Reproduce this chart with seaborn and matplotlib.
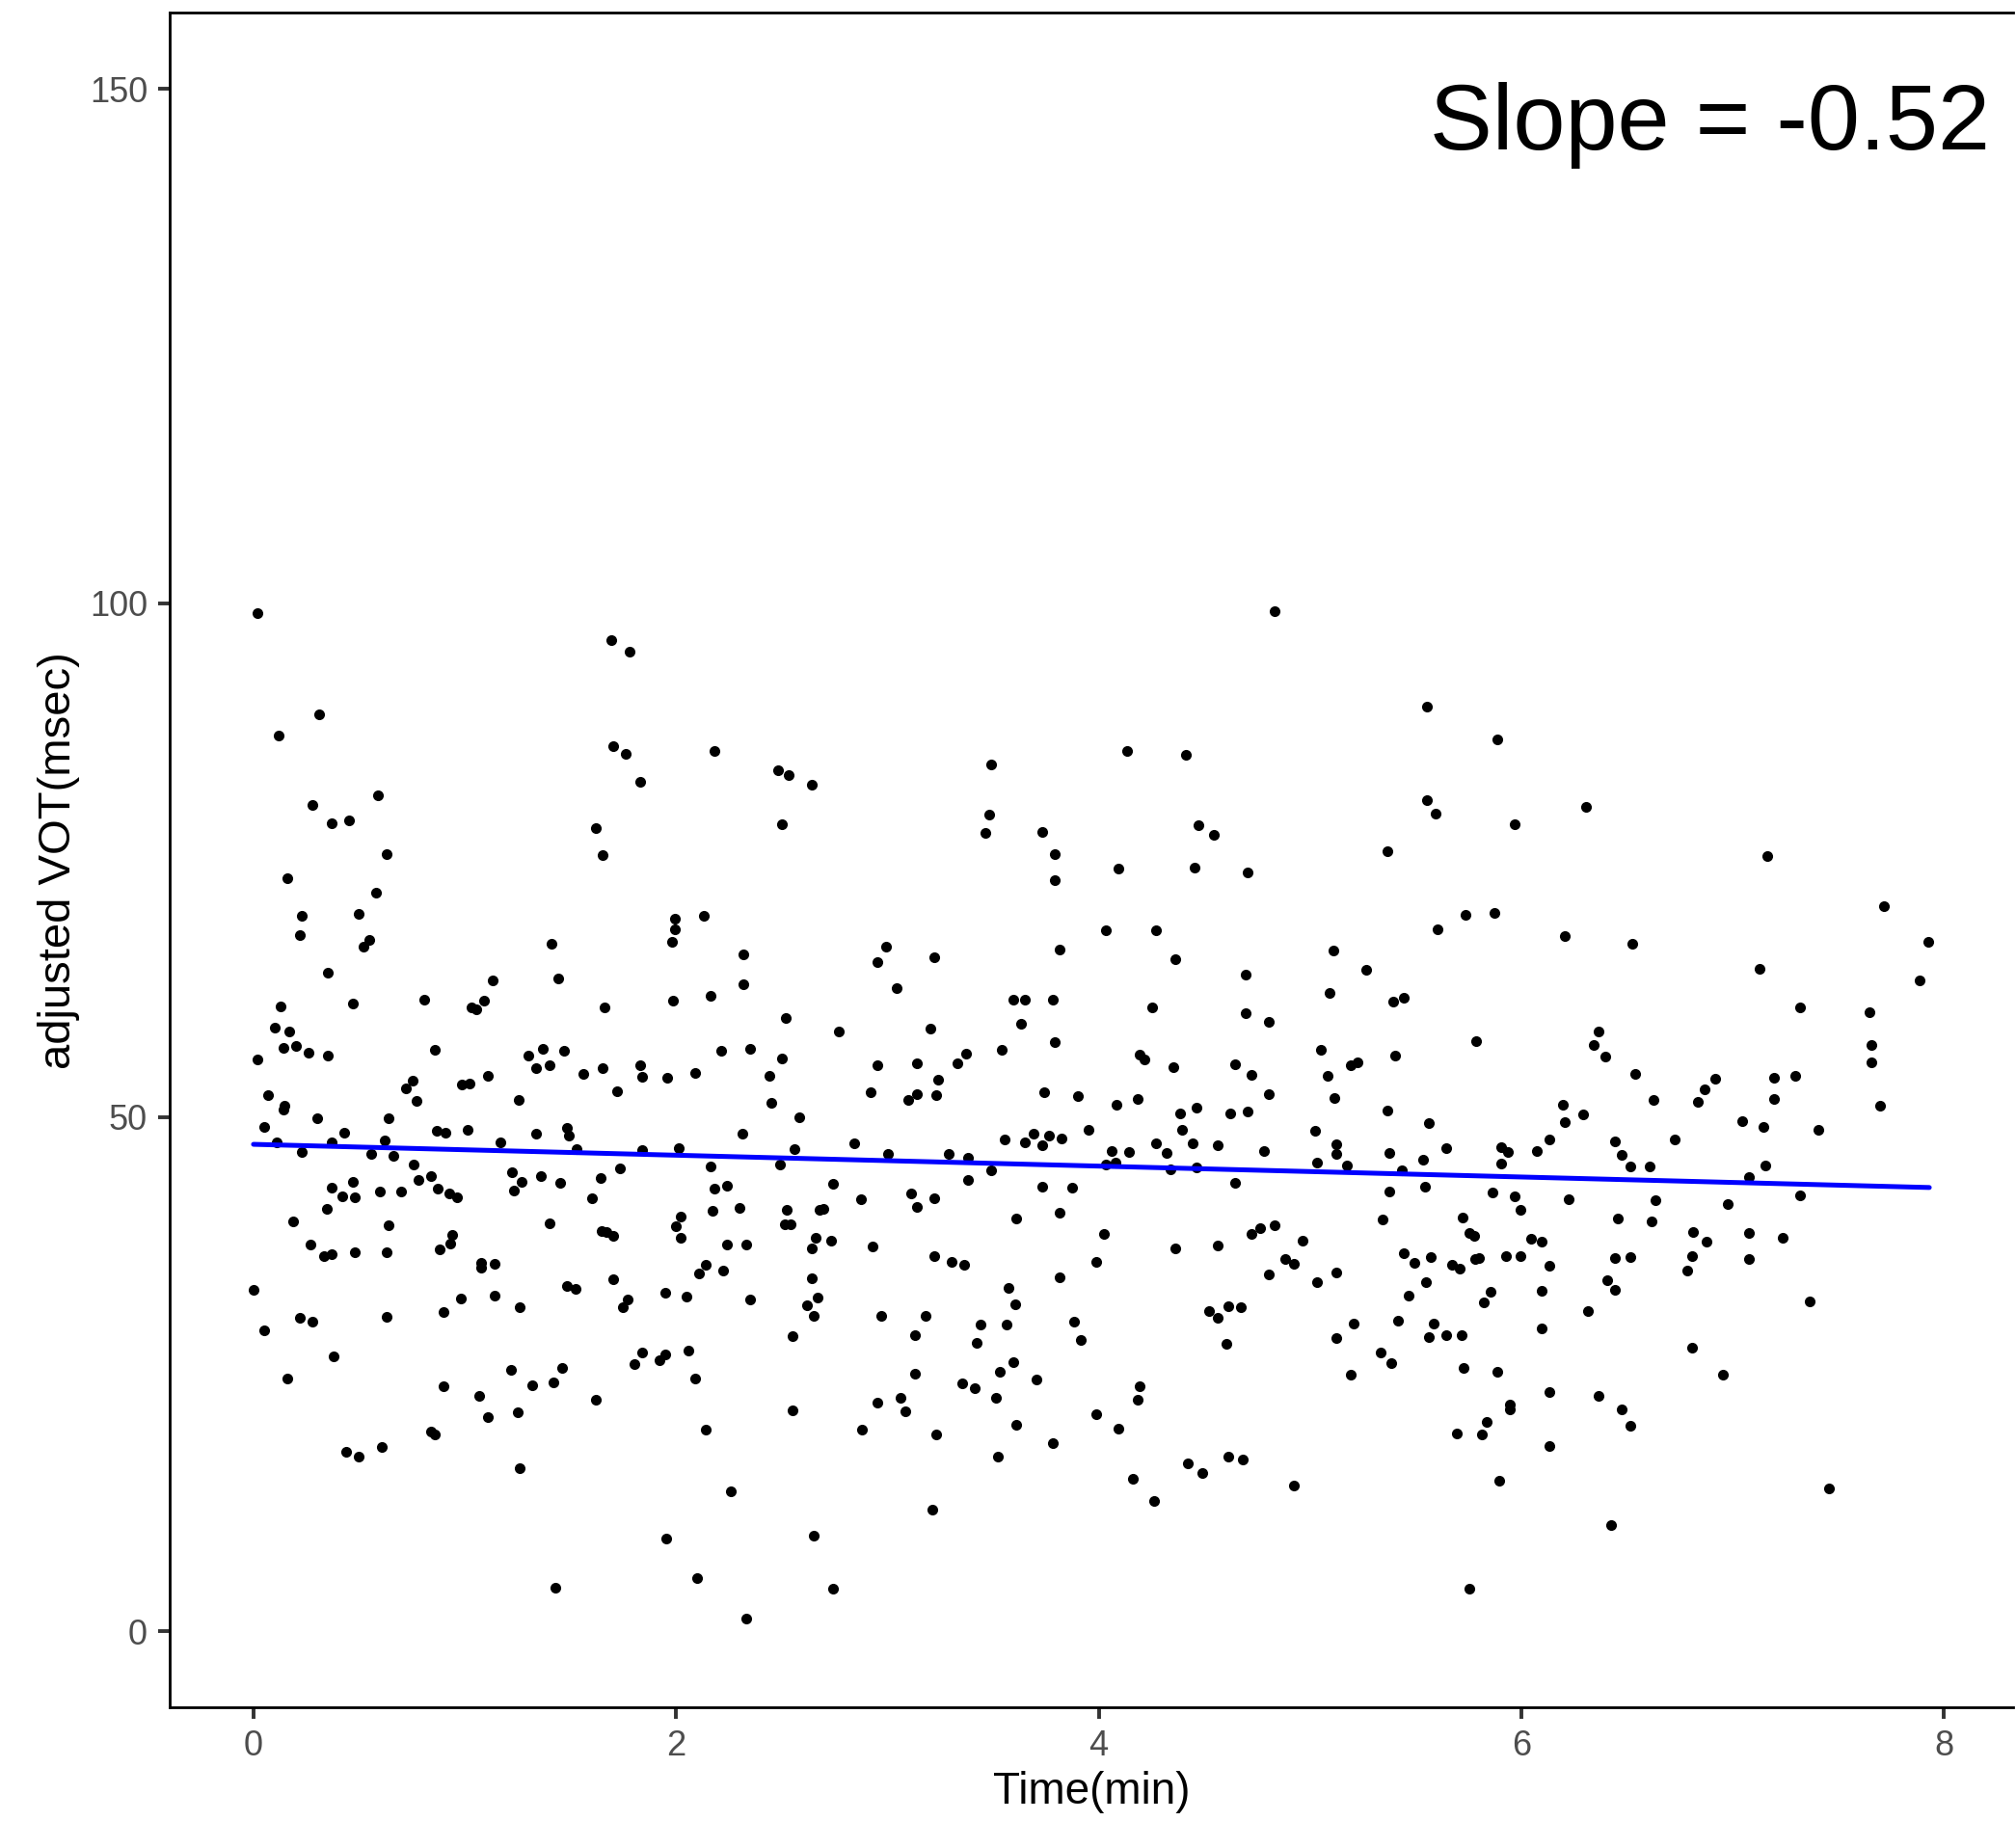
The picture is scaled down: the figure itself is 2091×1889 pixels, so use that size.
import matplotlib
matplotlib.use("Agg")
import matplotlib.pyplot as plt
import seaborn as sns
import pandas as pd

# ---- data (time in min, adjusted VOT in msec) ----
pts_0_2_high = [(0.020, 99.0), (1.691, 96.4), (1.779, 95.3), (0.311, 89.2), (0.121, 87.1), (1.701, 86.1),
    (1.761, 85.3), (1.831, 82.6), (0.591, 81.3), (0.279, 80.4), (0.372, 78.6), (0.451, 78.9), (1.621, 78.1),
    (0.630, 75.6), (1.651, 75.5), (0.160, 73.2), (0.580, 71.8), (0.229, 69.6), (0.499, 69.8), (0.219, 67.7),
    (0.550, 67.2), (0.519, 66.6), (1.409, 66.9), (0.350, 64.0), (1.131, 63.3), (1.440, 63.5), (0.130, 60.8),
    (0.470, 61.05), (0.810, 61.4), (1.030, 60.65), (1.055, 60.5), (1.091, 61.3), (1.660, 60.65), (0.099, 58.7),
    (0.169, 58.35), (0.140, 56.7), (0.201, 56.9), (0.260, 56.3), (0.350, 56.0), (0.020, 55.65), (0.860, 56.5),
    (1.301, 56.0), (1.370, 56.65), (1.339, 54.8), (1.400, 55.0), (1.470, 56.45), (1.560, 54.2), (1.651, 54.8),
    (1.831, 55.05), (1.841, 53.9), (1.957, 53.85), (1.109, 54.0), (0.988, 53.2), (1.021, 53.3), (0.752, 53.5),
    (0.720, 52.8), (0.770, 51.6), (1.253, 51.7), (1.721, 52.5), (0.069, 52.1), (0.146, 51.1), (0.140, 50.7),
    (0.300, 49.9), (0.641, 49.9)]

pts_2_4_high = [(2.182, 85.6), (2.480, 83.7), (2.532, 83.3), (2.643, 82.3), (2.500, 78.5), (3.492, 84.3),
    (3.481, 79.4), (3.463, 77.6), (3.732, 77.7), (3.792, 75.6), (3.792, 73.0), (1.993, 69.3), (1.993, 68.3),
    (1.980, 67.0), (2.130, 69.6), (2.320, 65.8), (2.320, 62.96), (1.987, 61.3), (2.161, 61.8), (2.521, 59.67),
    (2.771, 58.3), (2.991, 66.57), (2.952, 65.1), (3.221, 65.55), (3.042, 62.5), (3.813, 66.3), (3.594, 61.4),
    (3.652, 61.4), (3.781, 61.4), (3.632, 59.04), (3.201, 58.6), (3.792, 57.33), (3.542, 56.5), (2.211, 56.45),
    (2.351, 56.6), (2.500, 55.7), (2.092, 54.3), (2.442, 54.0), (2.952, 55.06), (3.140, 55.2), (3.372, 56.2),
    (3.332, 55.2), (3.241, 53.65), (2.921, 52.4), (3.099, 51.7), (3.140, 52.2), (3.232, 52.1), (3.741, 52.4),
    (3.901, 52.0), (2.451, 51.4), (2.584, 50.0)]

pts_4_6_high = [(4.832, 99.2), (5.553, 89.9), (5.885, 86.7), (4.132, 85.6), (4.414, 85.25), (5.553, 80.8),
    (5.594, 79.5), (5.966, 78.5), (4.473, 78.4), (4.543, 77.46), (5.365, 75.9), (4.093, 74.2), (4.453, 74.27),
    (4.703, 73.8), (4.033, 68.2), (4.272, 68.15), (4.364, 65.4), (4.694, 63.9), (5.108, 66.2), (5.263, 64.3),
    (5.094, 62.1), (5.392, 61.2), (5.442, 61.6), (5.603, 68.3), (5.733, 69.7), (5.874, 69.9), (4.254, 60.7),
    (4.694, 60.06), (4.805, 59.24), (5.785, 57.4), (5.053, 56.5), (5.404, 55.95), (5.194, 55.0), (5.222, 55.36),
    (4.192, 56.05), (4.214, 55.6), (4.353, 54.9), (4.643, 55.1), (4.723, 54.1), (5.085, 54.0), (4.805, 52.2),
    (5.114, 51.9), (4.084, 51.2), (4.184, 51.8), (4.383, 50.36), (4.464, 50.95), (4.622, 50.36), (4.703, 50.5),
    (5.365, 50.6)]

pts_6_8_high = [(6.305, 80.15), (7.163, 75.35), (7.715, 70.5), (6.204, 67.6), (6.524, 66.9), (7.927, 67.0),
    (7.125, 64.4), (7.884, 63.3), (7.317, 60.7), (7.647, 60.2), (6.366, 58.3), (6.344, 57.0), (6.395, 55.85),
    (6.536, 54.2), (7.656, 57.0), (7.656, 55.3), (6.916, 53.7), (6.865, 52.7), (6.836, 51.5), (7.196, 53.8),
    (7.295, 54.0), (7.196, 51.8), (6.626, 51.7), (6.195, 51.2), (6.294, 50.3), (7.697, 51.1)]

pts_0_2_low = [(0.049, 49.05), (0.429, 48.46), (0.869, 48.7), (0.909, 48.5), (1.011, 48.8), (1.339, 48.4),
    (1.482, 48.95), (1.490, 48.2), (0.108, 47.5), (0.370, 47.5), (0.620, 47.7), (1.170, 47.57), (1.531, 46.9),
    (1.841, 46.8), (0.227, 46.6), (0.559, 46.4), (0.661, 46.25), (0.760, 45.4), (0.839, 44.3), (0.779, 43.85),
    (1.222, 44.6), (1.269, 43.7), (1.230, 42.9), (1.360, 44.25), (1.450, 43.65), (1.642, 44.05), (1.732, 45.0),
    (1.601, 42.1), (0.372, 43.1), (0.469, 43.7), (0.422, 42.3), (0.481, 42.2), (0.600, 42.8), (0.700, 42.8),
    (0.871, 43.0), (0.927, 42.6), (0.965, 42.2), (0.349, 41.1), (0.189, 39.9), (0.639, 39.45), (1.399, 39.7),
    (1.648, 38.9), (1.669, 38.8), (1.703, 38.46), (0.939, 38.56), (0.931, 37.7), (0.881, 37.1), (0.270, 37.6),
    (0.332, 36.45), (0.372, 36.7), (0.481, 36.85), (0.630, 36.9), (1.079, 35.83), (1.079, 35.4), (1.141, 35.76),
    (0.000, 33.2), (1.701, 34.25), (1.481, 33.6), (1.523, 33.26), (1.771, 32.3), (1.750, 31.5), (0.982, 32.4),
    (1.141, 32.6), (1.260, 31.5), (0.898, 31.06), (0.630, 30.6), (0.219, 30.5), (0.280, 30.1), (0.049, 29.3),
    (1.949, 32.9), (0.381, 26.75), (0.160, 24.6), (1.841, 27.15), (1.802, 25.96), (1.922, 26.4), (1.949, 26.95),
    (1.220, 25.4), (1.461, 25.6), (0.898, 23.86), (1.068, 22.9), (1.319, 23.9), (1.421, 24.2), (1.621, 22.5),
    (1.109, 20.85), (1.251, 21.3), (0.842, 19.45), (0.860, 19.16), (0.440, 17.4), (0.499, 17.0), (0.609, 17.94),
    (1.260, 15.83), (1.954, 9.03), (1.430, 4.2)]

pts_2_4_low = [(2.313, 48.36), (2.012, 46.98), (2.561, 46.9), (2.841, 47.47), (3.002, 46.42), (3.291, 46.45),
    (3.382, 46.02), (3.553, 47.8), (3.652, 47.57), (3.693, 48.4), (3.763, 48.16), (3.731, 47.3), (3.822, 47.96),
    (3.951, 48.72), (2.161, 45.2), (2.491, 45.4), (3.492, 44.87), (3.382, 43.85), (2.180, 43.03), (2.241, 43.3),
    (2.742, 43.52), (2.873, 41.98), (3.111, 42.6), (3.140, 41.3), (3.221, 42.1), (3.732, 43.23), (3.872, 43.13),
    (2.170, 40.86), (2.301, 41.2), (2.523, 40.96), (2.678, 40.96), (2.696, 41.06), (2.022, 40.3), (1.998, 39.35),
    (2.022, 38.3), (2.512, 39.6), (2.543, 39.6), (3.611, 40.14), (3.813, 40.7), (2.241, 37.6), (2.331, 37.6),
    (2.661, 38.3), (2.641, 37.2), (2.733, 38.0), (2.930, 37.44), (3.220, 36.5), (3.302, 35.9), (3.361, 35.66),
    (3.989, 35.93), (2.141, 35.63), (2.109, 34.8), (2.220, 35.07), (2.641, 34.3), (3.813, 34.45), (2.051, 32.5),
    (2.351, 32.3), (3.571, 33.43), (3.603, 31.82), (2.670, 32.44), (2.620, 31.7), (2.652, 30.7), (2.972, 30.7),
    (3.182, 30.7), (3.442, 29.8), (3.562, 29.84), (3.881, 30.1), (2.550, 28.66), (3.131, 28.76), (3.423, 28.0),
    (3.913, 28.3), (2.060, 27.25), (2.092, 24.6), (3.131, 25.04), (3.594, 26.2), (3.533, 25.2), (3.703, 24.5),
    (3.352, 24.06), (3.411, 23.66), (3.513, 22.74), (3.061, 22.74), (2.952, 22.2), (3.083, 21.4), (2.550, 21.46),
    (2.142, 19.58), (2.880, 19.6), (3.232, 19.1), (3.611, 20.1), (3.781, 18.27), (3.522, 17.02), (3.988, 21.1),
    (2.261, 13.63), (3.212, 11.86), (2.652, 9.26), (2.101, 5.15), (2.742, 4.13), (2.331, 1.23)]

pts_4_6_low = [(5.562, 49.41), (4.392, 48.78), (5.025, 48.69), (4.272, 47.47), (4.443, 47.47), (4.563, 47.3),
    (4.062, 46.68), (4.143, 46.58), (4.322, 46.55), (4.782, 46.71), (5.123, 47.34), (5.123, 46.42), (5.374, 46.48),
    (5.643, 47.0), (5.902, 47.1), (5.935, 46.58), (4.035, 45.37), (4.081, 45.53), (4.341, 44.94), (4.462, 45.07),
    (5.034, 45.6), (5.173, 45.3), (5.534, 45.9), (5.433, 44.8), (5.903, 45.5), (4.644, 43.59), (5.374, 42.73),
    (5.544, 43.26), (5.865, 42.64), (5.966, 42.27), (5.993, 40.99), (5.343, 40.07), (5.722, 40.24), (4.024, 38.59),
    (4.364, 37.21), (4.563, 37.5), (4.723, 38.66), (4.764, 39.2), (4.832, 39.48), (4.963, 38.0), (5.752, 38.76),
    (5.777, 38.43), (4.882, 36.2), (4.922, 35.73), (4.805, 34.68), (5.034, 33.99), (5.123, 34.87), (5.442, 36.78),
    (5.494, 35.83), (5.573, 36.35), (5.673, 35.6), (5.707, 35.27), (5.783, 36.19), (5.798, 36.29), (5.925, 36.45),
    (5.993, 36.45), (5.549, 33.99), (5.464, 32.64), (5.856, 33.03), (5.823, 32.01), (4.523, 31.16), (4.563, 30.44),
    (4.613, 31.65), (4.674, 31.55), (4.604, 27.94), (5.205, 29.88), (5.123, 28.5), (5.415, 30.17), (5.585, 29.91),
    (5.564, 28.63), (5.643, 28.83), (5.715, 28.83), (5.334, 27.08), (5.383, 26.1), (5.194, 24.98), (5.724, 25.63),
    (5.885, 25.21), (4.193, 23.86), (4.183, 22.54), (4.093, 19.68), (5.943, 22.0), (5.943, 21.6), (5.835, 20.31),
    (5.812, 19.12), (5.695, 19.26), (4.423, 16.33), (4.491, 15.34), (4.612, 16.99), (4.683, 16.72), (4.163, 14.85),
    (4.922, 14.19), (5.894, 14.59), (4.263, 12.65), (5.754, 4.16)]

pts_6_8_low = [(6.204, 49.48), (7.046, 49.6), (7.145, 49.0), (7.406, 48.72), (6.134, 47.83), (6.075, 46.68),
    (6.443, 47.67), (6.474, 46.32), (6.515, 45.2), (6.605, 45.17), (6.725, 47.86), (7.155, 45.33), (7.076, 44.18),
    (6.224, 42.04), (6.636, 41.91), (6.976, 41.55), (7.317, 42.34), (6.455, 40.14), (6.614, 39.87), (6.046, 38.2),
    (6.095, 37.9), (6.814, 38.85), (6.875, 37.9), (7.076, 38.69), (7.236, 38.3), (6.134, 35.53), (6.443, 36.26),
    (6.515, 36.35), (6.807, 36.49), (6.786, 35.04), (7.076, 36.19), (6.404, 34.15), (6.443, 33.23), (6.095, 33.07),
    (6.314, 31.13), (7.365, 32.05), (6.095, 29.45), (6.807, 27.54), (6.954, 24.9), (6.134, 23.23), (6.366, 22.9),
    (6.474, 21.59), (6.515, 20.01), (6.134, 18.0), (7.455, 13.9), (6.425, 10.34)]

# fitted regression line (end points)
line_time = [0.0, 7.93]
line_vot = [47.35, 43.15]

x_ticks = [0, 2, 4, 6, 8]
y_ticks = [0, 50, 100, 150]
slope_label = "Slope = -0.52"

all_pts = (pts_0_2_high + pts_2_4_high + pts_4_6_high + pts_6_8_high +
           pts_0_2_low + pts_2_4_low + pts_4_6_low + pts_6_8_low)
df = pd.DataFrame(all_pts, columns=["time", "vot"])
line_df = pd.DataFrame({"time": line_time, "vot": line_vot})

sns.set_theme(style="white")
plt.rcParams['font.family'] = ['Liberation Sans', 'DejaVu Sans']

W, H = 2091, 1889
fig = plt.figure(figsize=(W / 100, H / 100), dpi=100)
left, right, top, bottom = 176, 2088, 13.3, 1771
ax = fig.add_axes([left / W, 1 - bottom / H, (right - left) / W, (bottom - top) / H])
ax.set_facecolor("white")

sns.scatterplot(data=df, x="time", y="vot", color="black", s=64, linewidth=0, ax=ax, legend=False, zorder=3)
sns.lineplot(data=line_df, x="time", y="vot", color="#0000FF", linewidth=3.6, ax=ax, zorder=4)

ax.set_xlim(-0.3965, 8.3265)
ax.set_ylim(-7.4, 157.4)
ax.set_xticks(x_ticks)
ax.set_yticks(y_ticks)
ax.set_xticklabels([str(t) for t in x_ticks])
ax.set_yticklabels([str(t) for t in y_ticks])
ax.tick_params(axis="both", which="major", bottom=True, left=True, length=8.5, width=2.8,
               color="#333333", labelsize=26, labelcolor="#4D4D4D", pad=8, direction="out")
for name, sp in ax.spines.items():
    sp.set_visible(name != "right")
    sp.set_linewidth(2.0)
    sp.set_color("black")

ax.set_xlabel("Time(min)", fontsize=33, color="black", labelpad=6)
ax.set_ylabel("adjusted VOT(msec)", fontsize=34, color="black", labelpad=7)
ax.grid(False)

ax.text(8.215, 144.1, slope_label, ha="right", va="baseline", fontsize=70, color="black")

fig.savefig("out.png", dpi=100)
